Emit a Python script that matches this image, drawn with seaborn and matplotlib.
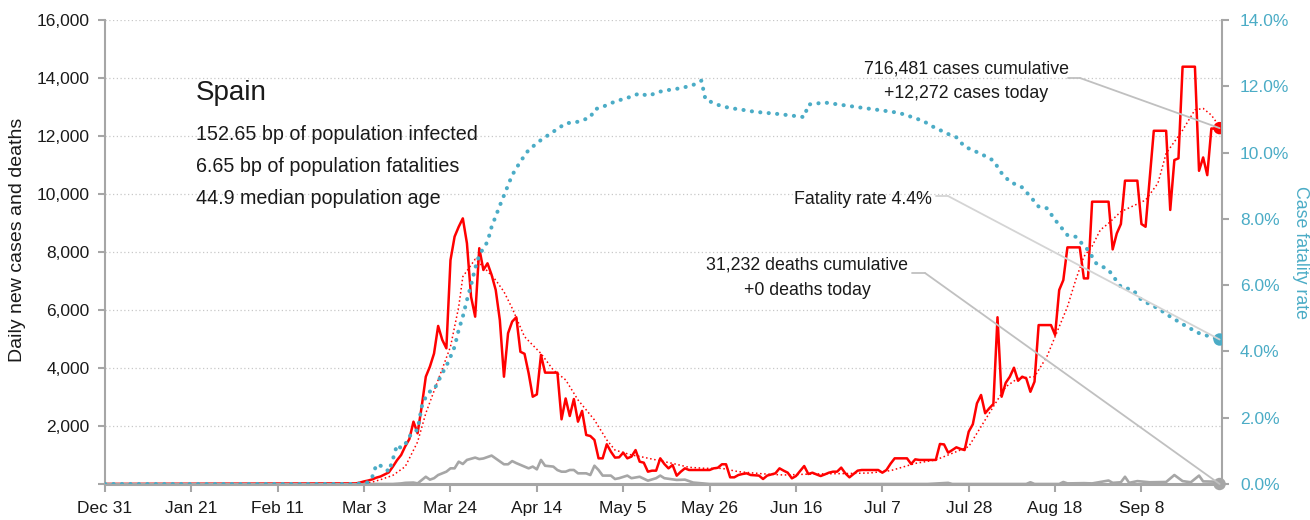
# Spain - daily cases, deaths and case fatality rate
import matplotlib
matplotlib.use("Agg")
import matplotlib.pyplot as plt
import matplotlib.ticker as mticker
import matplotlib.dates as mdates
import pandas as pd
import seaborn as sns

# ------------------------------------------------------------
# Data
# ------------------------------------------------------------
start = pd.Timestamp("2019-12-31")
case_start = "2020-03-01"

# daily new cases, one value per day from Mar 1 to Sep 27
case_values = [
    20, 50, 90, 120, 160, 220, 260, 330, 400, 600,
    820, 1000, 1300, 1550, 2150, 1750, 2670, 3700, 4050, 4500,
    5450, 4970, 4680, 7720, 8530, 8870, 9160, 8300, 6460, 5770,
    8130, 7380, 7610, 7210, 6690, 5650, 3700, 5200, 5600, 5750,
    4560, 4490, 3820, 3010, 3090, 4450, 3840, 3840, 3840, 3840,
    2230, 2950, 2345, 2930, 2150, 2520, 1690, 1655, 1520, 885,
    885, 1370, 1115, 910, 920, 1080, 885, 945, 1170, 770,
    735, 425, 460, 460, 885, 690, 540, 655, 287, 425,
    540, 483, 483, 483, 483, 483, 483, 540, 560, 680,
    680, 230, 230, 310, 345, 368, 310, 300, 290, 172,
    290, 330, 368, 540, 460, 390, 195, 275, 450, 620,
    345, 390, 330, 275, 330, 390, 425, 425, 565, 368,
    230, 345, 460, 483, 483, 483, 483, 483, 390, 483,
    700, 885, 885, 885, 885, 690, 850, 830, 830, 830,
    830, 830, 1380, 1365, 1080, 1170, 1265, 1210, 1170, 1805,
    2060, 2780, 3070, 2440, 2610, 2760, 5750, 3010, 3490, 3700,
    4010, 3560, 3700, 3640, 3180, 3530, 5480, 5480, 5480, 5480,
    5140, 6690, 7030, 8160, 8160, 8160, 8160, 7090, 7090, 9735,
    9735, 9735, 9735, 9735, 8090, 8640, 8965, 10460, 10460, 10460,
    10460, 8965, 8870, 10520, 12180, 12180, 12180, 12180, 9450, 11170,
    11230, 14390, 14390, 14390, 14390, 10800, 11260, 10650, 12260, 12250,
    12272,
]

# trend of daily cases (days counted from Dec 31)
trend_days = [0, 61, 64, 67, 70, 73, 76, 78, 81, 84, 86, 87, 89, 90, 92, 95,
              97, 99, 102, 106, 109, 112, 115, 119, 122, 124, 128, 130, 134,
              138, 142, 146, 150, 154, 160, 165, 172, 180, 186, 191, 197, 202,
              207, 210, 213, 216, 219, 222, 226, 229, 231, 234, 236, 238, 240,
              242, 244, 247, 253, 256, 258, 262, 265, 267, 269, 271]
trend_values = [0, 0, 30, 150, 300, 600, 1450, 2440, 3590, 4735, 6110, 7150,
                7550, 7750, 7490, 7030, 6630, 6060, 5080, 4500, 3930, 3590,
                2900, 2210, 1520, 1170, 1000, 950, 830, 710, 575, 540, 540,
                425, 350, 310, 345, 360, 380, 460, 710, 830, 1115, 1290, 1980,
                2670, 3350, 3650, 3700, 4390, 5080, 6110, 7030, 7840, 8200,
                8760, 8990, 9390, 9790, 10370, 11400, 12200, 12900, 12950,
                12720, 12320]

# case fatality rate in percent
rate_days = [0, 61, 64, 65, 66, 67, 68, 69, 70, 71, 72, 73, 74, 75, 76, 77, 78,
             79, 80, 81, 82, 83, 84, 85, 86, 87, 88, 89, 90, 91, 93, 94, 96,
             99, 101, 103, 106, 109, 112, 115, 118, 119, 121, 124, 128, 130,
             132, 135, 138, 140, 143, 145, 146, 149, 152, 154, 158, 164, 170,
             171, 175, 179, 183, 189, 193, 196, 199, 201, 205, 207, 209, 213,
             216, 218, 220, 223, 225, 227, 229, 231, 234, 236, 239, 241, 244,
             247, 250, 252, 256, 259, 263, 266, 271]
rate_values = [0, 0, 0.05, 0.22, 0.59, 0.55, 0.5, 0.37, 0.75, 1.18, 1.08, 1.2,
               1.43, 1.58, 1.63, 2.33, 2.63, 2.79, 2.84, 3.09, 3.34, 3.56, 3.84,
               4.14, 4.65, 5.05, 5.55, 6.0, 6.51, 6.91, 7.31, 7.76, 8.4, 9.32,
               9.73, 10.08, 10.38, 10.63, 10.88, 10.93, 11.06, 11.3, 11.38,
               11.54, 11.69, 11.79, 11.71, 11.84, 11.91, 11.94, 12.04, 12.17,
               11.6, 11.44, 11.34, 11.31, 11.23, 11.16, 11.07, 11.45, 11.51,
               11.44, 11.37, 11.27, 11.2, 11.08, 10.95, 10.8, 10.56, 10.46,
               10.18, 9.96, 9.76, 9.38, 9.12, 8.95, 8.67, 8.37, 8.32, 7.97,
               7.51, 7.46, 7.06, 6.66, 6.46, 5.95, 5.85, 5.55, 5.3, 5.05, 4.75,
               4.55, 4.36]

# daily new deaths
death_days = [0, 61, 70, 72, 73, 75, 76, 78, 79, 80, 81, 83, 84, 85, 86, 87,
              88, 90, 91, 92, 94, 95, 97, 98, 99, 100, 102, 103, 104, 105, 106,
              107, 109, 110, 111, 112, 113, 114, 115, 117, 118, 119, 120, 121,
              123, 124, 125, 127, 128, 130, 132, 134, 135, 136, 139, 141, 142,
              143, 147, 200, 205, 206, 224, 225, 226, 232, 233, 234, 238, 240,
              244, 245, 247, 248, 249, 251, 254, 258, 260, 262, 264, 266, 267,
              270, 271]
death_values = [0, 0, 0, 20, 40, 50, 20, 250, 150, 200, 310, 425, 540, 540,
                770, 690, 830, 910, 860, 880, 980, 880, 680, 680, 790, 720,
                600, 540, 600, 505, 830, 630, 600, 480, 425, 425, 483, 483,
                368, 368, 310, 630, 483, 290, 290, 172, 200, 290, 200, 250,
                115, 200, 290, 200, 140, 150, 100, 50, 0, 0, 40, 0, 0, 60, 0,
                0, 70, 20, 30, 20, 120, 40, 60, 250, 40, 100, 60, 70, 310, 100,
                60, 290, 90, 80, 0]

tick_labels = ["Dec 31", "Jan 21", "Feb 11", "Mar 3", "Mar 24", "Apr 14",
               "May 5", "May 26", "Jun 16", "Jul 7", "Jul 28", "Aug 18", "Sep 8"]

country = "Spain"
facts = ["152.65 bp of population infected",
         "6.65 bp of population fatalities",
         "44.9 median population age"]
cases_note = ["716,481 cases cumulative", "+12,272 cases today"]
deaths_note = ["31,232 deaths cumulative", "+0 deaths today"]
rate_note = "Fatality rate 4.4%"

# ------------------------------------------------------------
# Frames
# ------------------------------------------------------------
def by_day(days, values):
    return pd.DataFrame({"date": start + pd.to_timedelta(days, unit="D"),
                         "value": values})

case_dates = pd.date_range(case_start, periods=len(case_values))
cases = pd.DataFrame({"date": [start] + list(case_dates),
                      "value": [0] + case_values})
trend = by_day(trend_days, trend_values)
rate = by_day(rate_days, rate_values)
deaths = by_day(death_days, death_values)
last_date = case_dates[-1]
last_x = mdates.date2num(last_date)

# ------------------------------------------------------------
# Style
# ------------------------------------------------------------
sns.set_style("white")
plt.rcParams["font.family"] = ["Liberation Sans", "DejaVu Sans"]

RED = "#ff0000"
BLUE = "#4bacc6"
GREY = "#a6a6a6"
LEADER = "#c0c0c0"
TEXT = "#1a1a1a"

W, H = 1310, 520
def px(x, y):
    return x / W, 1 - y / H

fig = plt.figure(figsize=(13.1, 5.2), dpi=100)
ax = fig.add_axes([105 / W, 1 - 484 / H, 1117 / W, 464 / H])
ax2 = ax.twinx()

# ------------------------------------------------------------
# Lines
# ------------------------------------------------------------
sns.lineplot(data=deaths, x="date", y="value", ax=ax, color=GREY, lw=1.9)
sns.lineplot(data=cases, x="date", y="value", ax=ax, color=RED, lw=1.8)
sns.lineplot(data=trend, x="date", y="value", ax=ax, color=RED, lw=1.1,
             linestyle=(0, (1, 1.7)))
sns.lineplot(data=rate, x="date", y="value", ax=ax2, color=BLUE, lw=2.9)
rate_line = ax2.get_lines()[-1]
rate_line.set_linestyle((0, (0.05, 2.05)))
rate_line.set_dash_capstyle("round")

# end points
sns.scatterplot(x=[last_date], y=[case_values[-1]], ax=ax, color=RED, s=80,
                edgecolor="none", zorder=5)
sns.scatterplot(x=[last_date], y=[death_values[-1]], ax=ax, color=GREY, s=80,
                edgecolor="none", zorder=5, clip_on=False)
sns.scatterplot(x=[last_date], y=[rate_values[-1]], ax=ax2, color=BLUE, s=80,
                edgecolor="none", zorder=5)

# ------------------------------------------------------------
# Axes
# ------------------------------------------------------------
ax.set_xlim(start, last_date + pd.Timedelta(hours=14))
ax.set_xticks(pd.date_range(start, periods=len(tick_labels), freq="21D"))
ax.set_xticklabels(tick_labels)
ax.set_ylim(0, 16000)
ax.set_yticks(range(0, 16001, 2000))
ax.yaxis.set_major_formatter(
    mticker.FuncFormatter(lambda v, _: f"{v:,.0f}" if v else ""))
ax2.set_ylim(0, 14)
ax2.set_yticks(range(0, 15, 2))
ax2.yaxis.set_major_formatter(mticker.FuncFormatter(lambda v, _: f"{v:.1f}%"))

ax.set_xlabel("")
ax.set_ylabel("")
ax2.set_ylabel("")

ax.yaxis.grid(True, color="#c8c8c8", lw=0.9, linestyle=(0, (1, 2)))
ax.set_axisbelow(True)

for a in (ax, ax2):
    a.spines["top"].set_visible(False)
ax.spines["right"].set_visible(False)
ax2.spines["left"].set_visible(False)
ax2.spines["bottom"].set_visible(False)
ax.spines["left"].set_color(GREY)
ax.spines["left"].set_linewidth(1.5)
ax.spines["bottom"].set_color(GREY)
ax.spines["bottom"].set_linewidth(2.2)
ax2.spines["right"].set_color(GREY)
ax2.spines["right"].set_linewidth(1.5)

ax.tick_params(axis="y", length=5, width=1.5, color=GREY, labelsize=12.5,
               labelcolor=TEXT, pad=6, left=True)
ax.tick_params(axis="x", length=6, width=1.5, color=GREY, labelsize=12.5,
               labelcolor=TEXT, pad=6, bottom=True)
ax2.tick_params(axis="y", length=5, width=1.5, color=GREY, labelsize=12.5,
                labelcolor=BLUE, pad=8, right=True)

fig.text(*px(18, 240), "Daily new cases and deaths", rotation=90,
         ha="center", va="center", fontsize=14, color=TEXT)
fig.text(*px(1300, 252), "Case fatality rate", rotation=270,
         ha="center", va="center", fontsize=12.8, color=BLUE)

# ------------------------------------------------------------
# Text block
# ------------------------------------------------------------
fig.text(*px(196, 100), country, fontsize=20, color=TEXT, va="baseline")
for line, y in zip(facts, [140, 172, 204]):
    fig.text(*px(196, y), line, fontsize=14.2, color=TEXT, va="baseline")

# ------------------------------------------------------------
# Annotations with leader lines
# ------------------------------------------------------------
for line, y in zip(cases_note, [73, 98]):
    fig.text(*px(966, y), line, fontsize=12.8, color=TEXT, ha="center",
             va="baseline")
for line, y in zip(deaths_note, [270, 295]):
    fig.text(*px(807, y), line, fontsize=12.8, color=TEXT, ha="center",
             va="baseline")
fig.text(*px(932, 204), rate_note, fontsize=12.8, color=TEXT, ha="right",
         va="baseline")

def leader(start_px, kink_px, target, coords, color):
    xs, ys = zip(px(*start_px), px(*kink_px))
    ax2.plot(xs, ys, transform=fig.transFigure, color=color, lw=1.3,
             clip_on=False, zorder=6)
    ax2.annotate("", xy=target, xycoords=coords, xytext=px(*kink_px),
                 textcoords="figure fraction",
                 arrowprops=dict(arrowstyle="-", color=color, lw=1.3,
                                 shrinkA=0, shrinkB=0), zorder=6)

leader((1068, 78), (1080, 78), (last_x, case_values[-1]), ax.transData,
       LEADER)
leader((936, 196), (948, 196), (last_x, rate_values[-1]), ax2.transData,
       "#d4d4d4")
leader((912, 273), (925, 273), (last_x, death_values[-1]), ax.transData,
       LEADER)

fig.savefig("out.png", dpi=100)
